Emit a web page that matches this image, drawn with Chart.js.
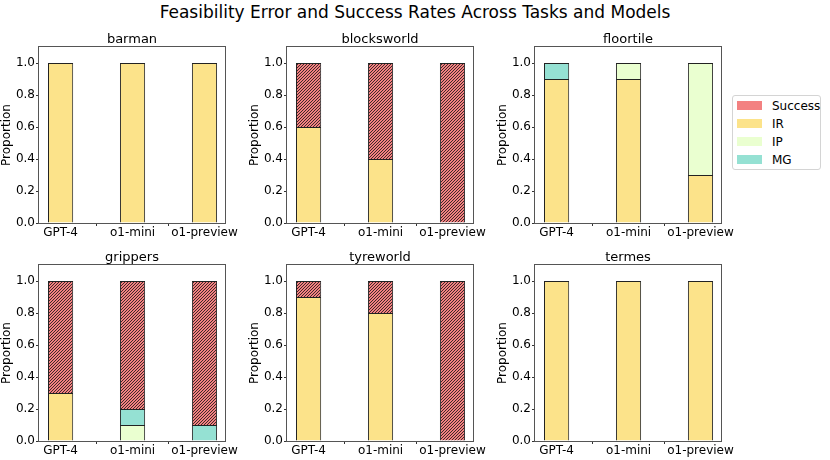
<!DOCTYPE html>
<html>
<head>
<meta charset="utf-8">
<script src="https://cdn.jsdelivr.net/npm/chart.js@4.4.1/dist/chart.umd.min.js"></script>
<style>
  body { margin: 0; background: #fff; font-family: 'DejaVu Sans', sans-serif; }
  #fig { position: relative; width: 830px; height: 460px; overflow: hidden; }
  #suptitle { position: absolute; left: 0; top: 2px; width: 830px; text-align: center; font-size: 17px; color: #000; }
  .panel { position: absolute; }
  #legend { position: absolute; left: 732px; top: 95px; width: 89px; height: 75px; box-sizing: border-box;
            border: 1px solid #d4d4d4; border-radius: 3px; font-size: 12px; color: #000; }
  .item { position: absolute; left: 4px; height: 18px; line-height: 18px; white-space: nowrap; }
  .sw { display: inline-block; width: 25px; height: 9px; vertical-align: middle; margin-right: 10px; position: relative; top: -1px; }
</style>
</head>
<body>
<div id="fig">
  <div id="suptitle">Feasibility Error and Success Rates Across Tasks and Models</div>
  <div id="legend"></div>
</div>
<script>
// data
const tasks = ['barman', 'blocksworld', 'floortile', 'grippers', 'tyreworld', 'termes']
const models = ['GPT-4', 'o1-mini', 'o1-preview']
const yTicks = [0, 0.2, 0.4, 0.6, 0.8, 1.0]

// one row per task, one value per model
const irRates = [[1, 1, 1], [0.6, 0.4, 0], [0.9, 0.9, 0.3], [0.3, 0, 0], [0.9, 0.8, 0], [1, 1, 1]]
const ipRates = [[0, 0, 0], [0, 0, 0], [0, 0.1, 0.7], [0, 0.1, 0], [0, 0, 0], [0, 0, 0]]
const mgRates = [[0, 0, 0], [0, 0, 0], [0.1, 0, 0], [0, 0.1, 0.1], [0, 0, 0], [0, 0, 0]]
const successRates = [[0, 0, 0], [0.4, 0.6, 1], [0, 0, 0], [0.7, 0.8, 0.9], [0.1, 0.2, 1], [0, 0, 0]]

// stacking order bottom -> top
const seriesNames = ['IR', 'IP', 'MG', 'Success']
const seriesData = [irRates, ipRates, mgRates, successRates]
const seriesColors = ['#FCE38A', '#EAFFD0', '#95E1D3', '#F38181']
const legendOrder = ['Success', 'IR', 'IP', 'MG']

// layout
const axLeft = [39, 287, 535]
const axTop = [47, 265]
const axW = 186, axH = 176
const yAxisW = 39, titleH = 20, xAxisH = 18, padR = 20

function hatch(base){
    const s = 3
    const c = document.createElement('canvas')
    c.width = s; c.height = s
    const g = c.getContext('2d')
    g.fillStyle = base
    g.fillRect(0, 0, s, s)
    g.strokeStyle = '#2b1f1f'
    g.lineWidth = 0.9
    g.beginPath()
    g.moveTo(0, s); g.lineTo(s, 0)
    g.moveTo(-1, 1); g.lineTo(1, -1)
    g.moveTo(s - 1, s + 1); g.lineTo(s + 1, s - 1)
    g.stroke()
    return g.createPattern(c, 'repeat')
}

// frame round the plot area (like the spines) + subplot title
const framePlugin = {
    id: 'frame',
    afterDatasetsDraw(chart, args, opts){
        const a = chart.chartArea
        const ctx = chart.ctx
        ctx.save()
        ctx.strokeStyle = '#555'
        ctx.lineWidth = 1
        ctx.strokeRect(a.left - 0.5, a.top - 0.5, a.right - a.left + 1, a.bottom - a.top + 1)
        ctx.fillStyle = '#000'
        ctx.font = "13px 'DejaVu Sans', sans-serif"
        ctx.textAlign = 'center'
        ctx.textBaseline = 'middle'
        ctx.fillText(opts.text, (a.left + a.right) / 2, a.top - 7.5)
        ctx.restore()
    }
}

const fig = document.getElementById('fig')
const fontBase = { family: "'DejaVu Sans', sans-serif" }

tasks.forEach((task, t) => {
    const row = Math.floor(t / 3), col = t % 3
    const div = document.createElement('div')
    div.className = 'panel'
    const w = yAxisW + axW + padR, h = titleH + axH + xAxisH
    div.style.left = (axLeft[col] - yAxisW) + 'px'
    div.style.top = (axTop[row] - titleH) + 'px'
    div.style.width = w + 'px'
    div.style.height = h + 'px'
    const cv = document.createElement('canvas')
    div.appendChild(cv)
    fig.appendChild(div)

    const datasets = seriesNames.map((name, s) => ({
        label: name,
        data: models.map((m, i) => ({ x: i, y: seriesData[s][t][i] })),
        backgroundColor: name === 'Success' ? hatch(seriesColors[s]) : seriesColors[s],
        borderColor: '#222',
        borderWidth: 1,
        borderSkipped: 'start',
        barPercentage: 0.35,
        categoryPercentage: 1
    }))

    new Chart(cv, {
        type: 'bar',
        data: { datasets },
        plugins: [framePlugin],
        options: {
            responsive: true,
            maintainAspectRatio: false,
            animation: false,
            layout: { padding: { right: padR, top: titleH } },
            plugins: {
                legend: { display: false },
                tooltip: { enabled: false },
                title: { display: false },
                frame: { text: task }
            },
            scales: {
                x: {
                    type: 'linear',
                    stacked: true,
                    offset: false,
                    min: -0.3,
                    max: 2.285,
                    afterBuildTicks: sc => { sc.ticks = models.map((m, i) => ({ value: i })) },
                    afterFit: sc => { sc.height = xAxisH },
                    ticks: {
                        color: '#000',
                        font: { ...fontBase, size: 12 },
                        padding: 0,
                        maxRotation: 0,
                        autoSkip: false,
                        callback: v => models[v]
                    },
                    grid: { display: true, drawOnChartArea: false, drawTicks: true, tickLength: 3, color: '#333' },
                    border: { display: false }
                },
                y: {
                    stacked: true,
                    min: 0,
                    max: 1.1,
                    afterBuildTicks: sc => { sc.ticks = yTicks.map(v => ({ value: v })) },
                    afterFit: sc => { sc.width = yAxisW },
                    ticks: {
                        color: '#000',
                        font: { ...fontBase, size: 12 },
                        padding: 1,
                        callback: v => v.toFixed(1)
                    },
                    grid: { display: true, drawOnChartArea: false, drawTicks: true, tickLength: 3, color: '#333' },
                    border: { display: false },
                    title: {
                        display: true,
                        text: 'Proportion',
                        color: '#000',
                        font: { ...fontBase, size: 12 },
                        padding: 0
                    }
                }
            }
        }
    })
})

// legend
const legend = document.getElementById('legend')
legendOrder.forEach((name, k) => {
    const s = seriesNames.indexOf(name)
    const it = document.createElement('div')
    it.className = 'item'
    it.style.top = (1 + k * 18) + 'px'
    it.innerHTML = `<span class="sw" style="background:${seriesColors[s]}"></span>${name}`
    legend.appendChild(it)
})
</script>
</body>
</html>
